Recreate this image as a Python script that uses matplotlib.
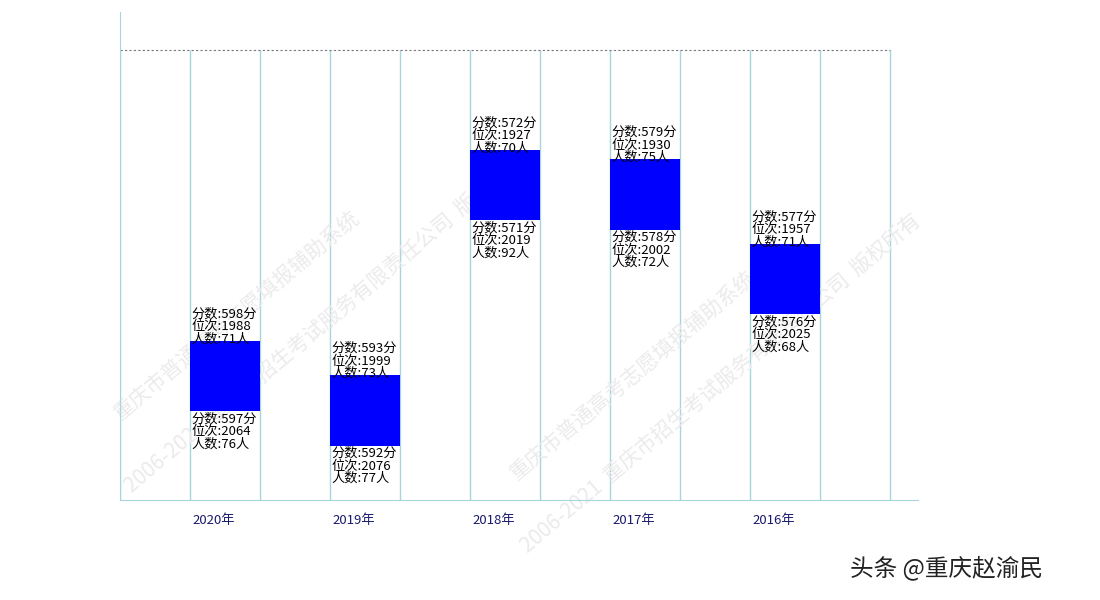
import matplotlib
matplotlib.use("Agg")
import matplotlib.pyplot as plt

plt.rcParams['font.family'] = ['Noto Sans CJK SC', 'DejaVu Sans']

years = ["2020年", "2019年", "2018年", "2017年", "2016年"]
hi_score = [598, 593, 572, 579, 577]
hi_rank = [1988, 1999, 1927, 1930, 1957]
hi_count = [71, 73, 70, 75, 71]
lo_score = [597, 592, 571, 578, 576]
lo_rank = [2064, 2076, 2019, 2002, 2025]
lo_count = [76, 77, 92, 72, 68]

BOX_H = 22.4
fig = plt.figure(figsize=(11, 6), dpi=100)
ax = fig.add_axes([120/1100, 100/600, 798/1100, 488/600])
ax.set_xlim(-0.75, 4.95)
ax.set_ylim(2038.8, 1882.9)

for i in range(5):
    ax.bar(i, BOX_H, bottom=hi_rank[i], width=0.5, color='#0000ff', zorder=3)
    top = hi_rank[i]
    ax.text(i - 0.24, top + 1.5, f"分数:{hi_score[i]}分\n位次:{hi_rank[i]}\n人数:{hi_count[i]}人",
            fontsize=9.5, linespacing=0.95, va='bottom', ha='left', zorder=4)
    ax.text(i - 0.24, top + BOX_H + 0.5, f"分数:{lo_score[i]}分\n位次:{lo_rank[i]}\n人数:{lo_count[i]}人",
            fontsize=9.5, linespacing=0.95, va='top', ha='left', zorder=4)

xs = [i + d for i in range(5) for d in (-0.25, 0.25)] + [-0.75, 4.75]
ax.vlines(xs, 1895, 2038.8, color='#a8d4dc', lw=1, zorder=1)
ax.hlines(1895, -0.75, 4.75, color='#777777', lw=0.8, ls=(0, (2, 2)), zorder=1)

for s in ['top', 'right']:
    ax.spines[s].set_visible(False)
ax.spines['left'].set_color('#a8d4dc')
ax.spines['bottom'].set_color('#a8d4dc')
ax.set_yticks([])
ax.set_xticks([i - 0.08 for i in range(5)])
ax.set_xticklabels(years, color='#1a1a6e', fontsize=9.5)
ax.tick_params(axis='x', length=0, pad=10)

wm1 = "重庆市普通高考志愿填报辅助系统"
wm2 = "2006-2021  重庆市招生考试服务有限责任公司  版权所有"
for x0, y0 in [(0.10, 0.30), (0.46, 0.20)]:
    ax.text(x0, y0, wm1, rotation=40, fontsize=15, color='#ebebeb', zorder=2,
            transform=fig.transFigure)
    ax.text(x0 + 0.01, y0 - 0.12, wm2, rotation=40, fontsize=15, color='#ebebeb', zorder=2,
            transform=fig.transFigure)

fig.text(850/1100, 1 - 568/600, "头条 @重庆赵渝民", fontsize=17, color='#222222', va='center')
fig.savefig("out.png", dpi=100)
